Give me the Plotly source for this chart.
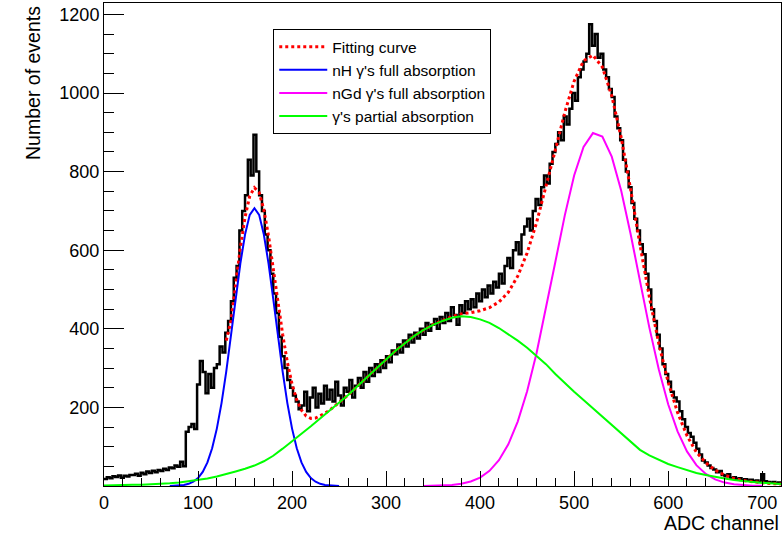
import plotly.graph_objects as go

# histogram, 3 ADC channels per bin, 0-720
bin_width = 3
counts = [
    18, 22, 20, 25, 23, 27, 21, 26, 24, 28,
    28, 31, 26, 34, 30, 37, 33, 39, 35, 41,
    38, 44, 41, 47, 45, 52, 49, 62, 50, 138,
    150, 158, 145, 258, 318, 290, 236, 285, 250, 300,
    310, 355, 340, 390, 420, 470, 530, 560, 650, 700,
    740, 830, 790, 894, 800, 740, 700, 640, 600, 540,
    490, 440, 380, 330, 300, 270, 250, 230, 215, 195,
    205, 240, 190, 225, 250, 200, 235, 210, 255, 220,
    245, 215, 265, 230, 205, 250, 240, 270, 225, 255,
    275, 250, 290, 265, 300, 280, 310, 290, 320, 300,
    330, 315, 345, 335, 360, 340, 370, 355, 385, 365,
    390, 375, 400, 385, 415, 395, 410, 425, 400, 430,
    415, 440, 420, 455, 435, 410, 460, 440, 470, 450,
    475, 455, 490, 470, 500, 480, 510, 490, 520, 505,
    540, 515, 560, 580, 555, 600, 620, 590, 640, 660,
    680, 650, 700, 730, 715, 760, 790, 770, 820, 850,
    870, 900, 880, 940, 920, 960, 1000, 980, 1040, 1060,
    1080, 1100, 1175, 1120, 1150, 1090, 1100, 1060, 1040, 1010,
    990, 940, 910, 880, 830, 800, 760, 720, 680, 650,
    615, 590, 540, 500, 450, 420, 385, 350, 310, 285,
    265, 240, 225, 215, 190, 170, 150, 135, 125, 110,
    95, 80, 65, 60, 52, 46, 42, 35, 38, 28,
    25, 30, 20, 22, 18, 20, 15, 17, 14, 16,
    12, 14, 10, 30, 12, 10, 8, 10, 7, 9,
]

# fit components
nh_x = list(range(70, 255, 5))
nh_y = [0.2, 0.6, 1.3, 2.7, 5.6, 10.9, 20, 36, 60, 96, 146, 211, 291, 381, 476, 566, 640, 690, 707,
        690, 640, 566, 476, 381, 291, 211, 146, 96, 60, 36, 20, 10.9, 5.6, 2.7, 1.3, 0.6, 0.2]

ngd_x = list(range(340, 710, 10))
ngd_y = [0.2, 0.6, 1.3, 2.8, 5.8, 11.4, 21.5, 38.5, 65.6, 106, 164, 241, 338, 450, 570, 688, 790, 863, 898,
         889, 838, 752, 642, 522, 403, 297, 208, 139, 88, 53, 30.6, 16.8, 8.7, 4.3, 2.0, 0.9, 0.4]

part_x = list(range(0, 730, 10))
part_y = [1, 2, 2, 3, 3, 4, 5, 7, 9, 12,
          15, 19, 24, 30, 37, 44, 52, 63, 77, 95,
          113, 133, 152, 172, 192, 212, 232, 255, 278, 300,
          322, 344, 364, 382, 397, 410, 420, 428, 432, 430,
          424, 415, 402, 387, 370, 352, 332, 310, 285, 262,
          240, 219, 198, 177, 155, 135, 114, 92, 78, 66,
          56, 48, 40, 33, 28, 23, 19, 15, 12, 10,
          8, 6, 5]

fit_x = list(range(130, 255, 5)) + list(range(260, 730, 10))
fit_y = [370, 420, 513, 606, 684, 738, 759, 747, 703, 636, 553, 467, 386, 315, 259, 219, 193, 178, 172, 173,
         178, 185, 193, 203, 212,
         232, 255, 278, 300, 322, 344, 364, 382, 397, 411, 421, 431, 438, 441, 446, 454, 468, 493, 534, 593,
         670, 760, 855, 950, 1030, 1082, 1096, 1066, 993, 887, 756, 614, 481, 363, 264, 187, 128, 86, 59, 40,
         28, 19, 14, 11, 8, 6, 5]

edges = [i * bin_width for i in range(len(counts) + 1)]
step_y = counts + [counts[-1]]

fig = go.Figure()
fig.add_trace(go.Scatter(x=edges, y=step_y, mode='lines', line=dict(color='black', width=2.5, shape='hv'),
                         showlegend=False, hoverinfo='skip'))
fig.add_trace(go.Scatter(x=fit_x, y=fit_y, mode='lines', name='Fitting curve',
                         line=dict(color='#ff0000', width=3, dash='dot')))
fig.add_trace(go.Scatter(x=nh_x, y=nh_y, mode='lines', name="nH \u03b3's full absorption",
                         line=dict(color='#0000ff', width=2)))
fig.add_trace(go.Scatter(x=ngd_x, y=ngd_y, mode='lines', name="nGd \u03b3's full absorption",
                         line=dict(color='#ff00ff', width=2)))
fig.add_trace(go.Scatter(x=part_x, y=part_y, mode='lines', name="\u03b3's partial absorption",
                         line=dict(color='#00ff00', width=2)))

font = 'Liberation Sans, Arial, Helvetica, sans-serif'
fig.update_layout(
    width=782, height=533,
    margin=dict(l=104, r=1, t=3, b=47),
    paper_bgcolor='white', plot_bgcolor='white',
    font=dict(family=font, size=18, color='black'),
    legend=dict(x=0.25, y=0.946, xanchor='left', yanchor='top', bgcolor='white',
                bordercolor='black', borderwidth=1, font=dict(size=15.5), itemwidth=48),
    annotations=[
        dict(text='Number of events', textangle=-90, xref='paper', yref='paper',
             x=(33 - 104) / 677, y=0.998, xanchor='center', yanchor='top', showarrow=False,
             font=dict(size=19.5)),
        dict(text='ADC channel', xref='paper', yref='paper', x=1.0, y=-0.077,
             xanchor='right', yanchor='middle', showarrow=False, font=dict(size=19.5)),
    ],
)
fig.update_xaxes(range=[0, 720], tickvals=list(range(0, 800, 100)), ticks='inside', ticklen=15,
                 tickcolor='black', showline=True, linecolor='black', mirror=True, showgrid=False,
                 zeroline=False, minor=dict(ticks='inside', ticklen=8, dtick=20, tick0=0, tickcolor='black'))
fig.update_yaxes(range=[0, 1229], tickvals=list(range(200, 1400, 200)), ticks='inside', ticklen=20,
                 tickcolor='black', showline=True, linecolor='black', mirror=True, showgrid=False,
                 zeroline=False, minor=dict(ticks='inside', ticklen=10, dtick=50, tick0=0, tickcolor='black'))

fig.write_html("out.html", config={'displayModeBar': False},
               post_script="document.body.style.margin='0';")
